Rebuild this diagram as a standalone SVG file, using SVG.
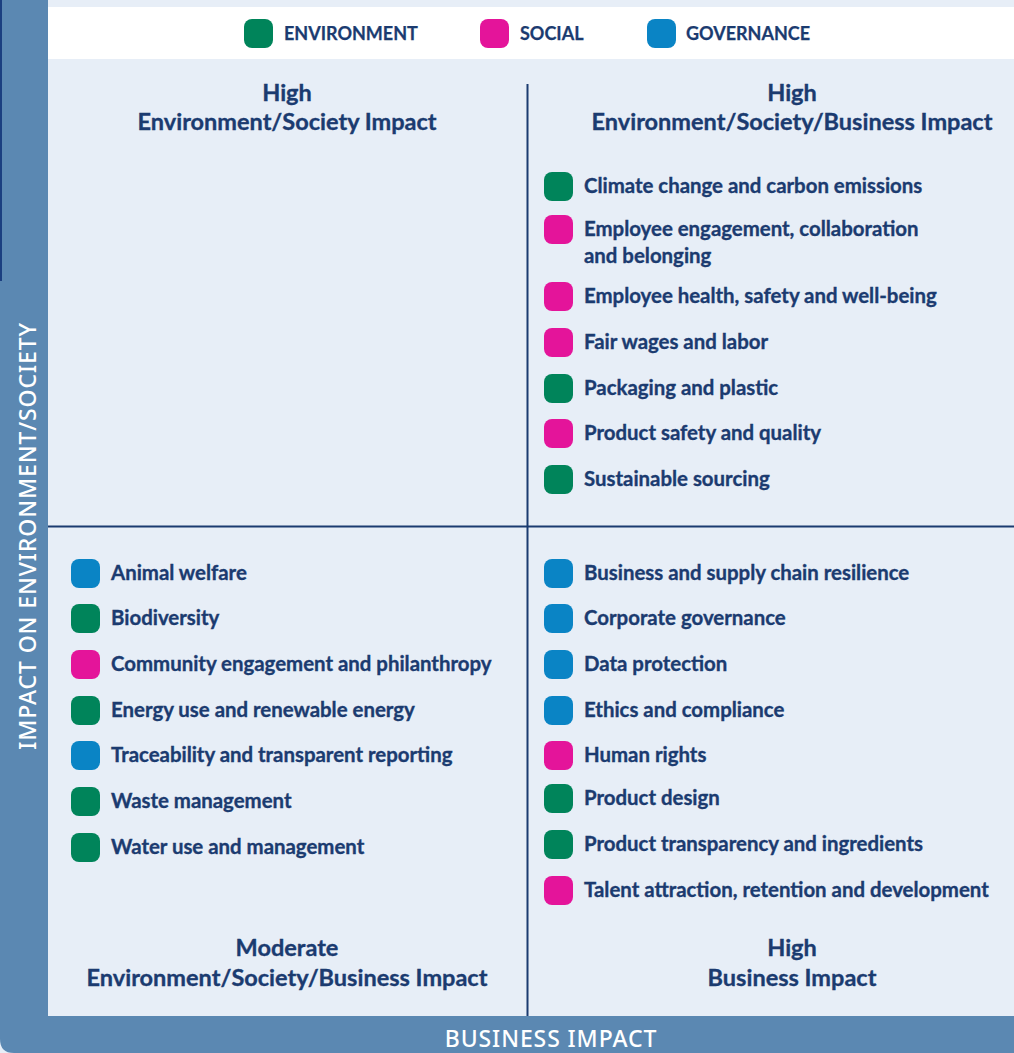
<svg xmlns="http://www.w3.org/2000/svg" width="1014" height="1053" viewBox="0 0 1014 1053">
  <style>
    .txt { font-family: Lato, "Noto Sans", sans-serif; font-weight: 700; fill: #1b3b70; stroke: #1b3b70; stroke-width: 0.35px; }
    .item { font-size: 20.4px; }
    .title { font-size: 23.5px; text-anchor: middle; }
    .legend { font-size: 18px; stroke-width: 0.25px; }
    .axis { font-family: "Noto Sans", Lato, sans-serif; font-weight: 500; font-size: 23px; fill: #ffffff; letter-spacing: 0.9px; text-anchor: middle; }
    .env { fill: #00845a; }
    .soc { fill: #e4149a; }
    .gov { fill: #0a84c5; }
    .grid { stroke: #1b3b70; stroke-width: 2; fill: none; }
  </style>
  <defs>
    <rect id="dot" x="0" y="0" width="29" height="29" rx="8" ry="8"/>
  </defs>

  <!-- page background -->
  <rect x="0" y="0" width="1014" height="1053" fill="#e7eef7"/>

  <!-- axis frame -->
  <path d="M0 0 H48 V1016 H1014 V1053 H14 Q0 1053 0 1039 Z" fill="#5b88b2"/>
  <rect x="0" y="0" width="2" height="281" fill="#1b3f80"/>

  <!-- legend strip -->
  <g id="legend">
    <rect x="48" y="7" width="966" height="52" fill="#ffffff"/>
    <use href="#dot" x="244" y="19" class="env"/>
    <text class="txt legend" x="284" y="40">ENVIRONMENT</text>
    <use href="#dot" x="480" y="19" class="soc"/>
    <text class="txt legend" x="520" y="40">SOCIAL</text>
    <use href="#dot" x="647" y="19" class="gov"/>
    <text class="txt legend" x="686" y="40">GOVERNANCE</text>
  </g>

  <!-- quadrant dividers -->
  <g id="connectors">
    <line class="grid" x1="527.5" y1="84" x2="527.5" y2="1016"/>
    <line class="grid" x1="48" y1="526.5" x2="1014" y2="526.5"/>
  </g>

  <!-- axis labels -->
  <text class="axis" transform="translate(36 536) rotate(-90)">IMPACT ON ENVIRONMENT/SOCIETY</text>
  <text class="axis" x="551" y="1047">BUSINESS IMPACT</text>

  <!-- quadrant titles -->
  <g id="title-top-left">
    <text class="txt title" x="287" y="101">High</text>
    <text class="txt title" x="287" y="130">Environment/Society Impact</text>
  </g>
  <g id="title-top-right">
    <text class="txt title" x="792" y="101">High</text>
    <text class="txt title" x="792" y="130">Environment/Society/Business Impact</text>
  </g>
  <g id="title-bottom-left">
    <text class="txt title" x="287" y="956">Moderate</text>
    <text class="txt title" x="287" y="986">Environment/Society/Business Impact</text>
  </g>
  <g id="title-bottom-right">
    <text class="txt title" x="792" y="956">High</text>
    <text class="txt title" x="792" y="986">Business Impact</text>
  </g>

  <!-- top-right quadrant -->
  <g id="quadrant-top-right">
    <g id="climate"><use href="#dot" x="544" y="172" class="env"/><text class="txt item" x="584" y="193">Climate change and carbon emissions</text></g>
    <g id="engagement"><use href="#dot" x="544" y="215" class="soc"/><text class="txt item" x="584" y="236">Employee engagement, collaboration</text><text class="txt item" x="584" y="263">and belonging</text></g>
    <g id="health"><use href="#dot" x="544" y="282" class="soc"/><text class="txt item" x="584" y="303">Employee health, safety and well-being</text></g>
    <g id="wages"><use href="#dot" x="544" y="328" class="soc"/><text class="txt item" x="584" y="349">Fair wages and labor</text></g>
    <g id="packaging"><use href="#dot" x="544" y="374" class="env"/><text class="txt item" x="584" y="395">Packaging and plastic</text></g>
    <g id="product-safety"><use href="#dot" x="544" y="419" class="soc"/><text class="txt item" x="584" y="440">Product safety and quality</text></g>
    <g id="sourcing"><use href="#dot" x="544" y="465" class="env"/><text class="txt item" x="584" y="486">Sustainable sourcing</text></g>
  </g>

  <!-- bottom-left quadrant -->
  <g id="quadrant-bottom-left">
    <g id="animal"><use href="#dot" x="71" y="559" class="gov"/><text class="txt item" x="111" y="580">Animal welfare</text></g>
    <g id="biodiversity"><use href="#dot" x="71" y="604" class="env"/><text class="txt item" x="111" y="625">Biodiversity</text></g>
    <g id="community"><use href="#dot" x="71" y="650" class="soc"/><text class="txt item" x="111" y="671">Community engagement and philanthropy</text></g>
    <g id="energy"><use href="#dot" x="71" y="696" class="env"/><text class="txt item" x="111" y="717">Energy use and renewable energy</text></g>
    <g id="traceability"><use href="#dot" x="71" y="741" class="gov"/><text class="txt item" x="111" y="762">Traceability and transparent reporting</text></g>
    <g id="waste"><use href="#dot" x="71" y="787" class="env"/><text class="txt item" x="111" y="808">Waste management</text></g>
    <g id="water"><use href="#dot" x="71" y="833" class="env"/><text class="txt item" x="111" y="854">Water use and management</text></g>
  </g>

  <!-- bottom-right quadrant -->
  <g id="quadrant-bottom-right">
    <g id="resilience"><use href="#dot" x="544" y="559" class="gov"/><text class="txt item" x="584" y="580">Business and supply chain resilience</text></g>
    <g id="governance"><use href="#dot" x="544" y="604" class="gov"/><text class="txt item" x="584" y="625">Corporate governance</text></g>
    <g id="data"><use href="#dot" x="544" y="650" class="gov"/><text class="txt item" x="584" y="671">Data protection</text></g>
    <g id="ethics"><use href="#dot" x="544" y="696" class="gov"/><text class="txt item" x="584" y="717">Ethics and compliance</text></g>
    <g id="human-rights"><use href="#dot" x="544" y="741" class="soc"/><text class="txt item" x="584" y="762">Human rights</text></g>
    <g id="design"><use href="#dot" x="544" y="784" class="env"/><text class="txt item" x="584" y="805">Product design</text></g>
    <g id="ingredients"><use href="#dot" x="544" y="830" class="env"/><text class="txt item" x="584" y="851">Product transparency and ingredients</text></g>
    <g id="talent"><use href="#dot" x="544" y="876" class="soc"/><text class="txt item" x="584" y="897">Talent attraction, retention and development</text></g>
  </g>
</svg>
